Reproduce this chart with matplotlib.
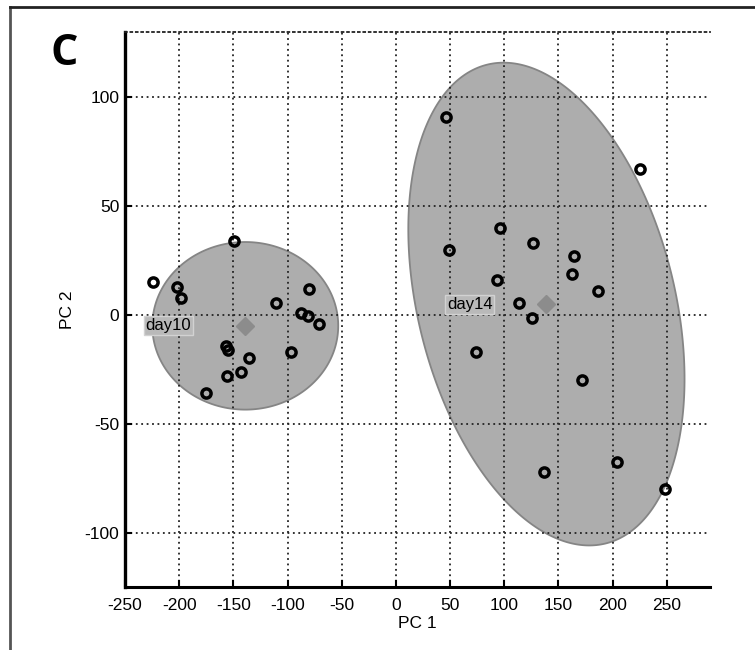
import numpy as np
import matplotlib
matplotlib.use("Agg")
import matplotlib.pyplot as plt
from matplotlib.lines import Line2D

plt.rcParams['font.family'] = ['Liberation Sans', 'DejaVu Sans']
plt.rcParams['axes.unicode_minus'] = False

# ---- data ----
day10_pc1 = [-149, -224, -202, -198, -111, -80, -88, -81, -71, -157, -155, -136, -143, -156, -175, -97]
day10_pc2 = [34, 15, 13, 8, 5.5, 12, 1, -0.5, -4, -14.5, -16, -20, -26, -28, -36, -17]
day14_pc1 = [46, 225, 96, 49, 127, 164, 163, 187, 93, 114, 126, 74, 172, 137, 204, 248]
day14_pc2 = [91, 67, 40, 30, 33, 27, 19, 11, 16, 5.5, -1.5, -17, -30, -72, -67.5, -80]

group_names = ["day10", "day14"]
centers_pc1 = [-139, 139]
centers_pc2 = [-5, 5]
# ellipse: half-extent along PC1, half-extent along PC2, correlation
ell_sx = [85.8, 127.5]
ell_sy = [38.5, 110.9]
ell_r = [0.0, -0.31]

xticks = [-250, -200, -150, -100, -50, 0, 50, 100, 150, 200, 250]
yticks = [-100, -50, 0, 50, 100]

# ---- figure ----
fig = plt.figure(figsize=(7.55, 6.5), dpi=100)
ax = fig.add_axes([0.1656, 0.0969, 0.7748, 0.8539])
ax.set_xlim(-250, 290)
ax.set_ylim(-125, 130)

# ellipses
t = np.linspace(0, 2 * np.pi, 400)
for cx, cy, sx, sy, r in zip(centers_pc1, centers_pc2, ell_sx, ell_sy, ell_r):
    ex = cx + sx * np.cos(t)
    ey = cy + sy * (r * np.cos(t) + np.sqrt(1 - r * r) * np.sin(t))
    ax.fill(ex, ey, facecolor='#adadad', edgecolor='#858585', linewidth=1.3, zorder=0.3)

# grid
ax.set_axisbelow(True)
ax.set_xticks(xticks)
ax.set_yticks(yticks)
ax.grid(True, color='#222222', linestyle=(0, (1, 2.0)), linewidth=1.3)

# points
for px, py in [(day10_pc1, day10_pc2), (day14_pc1, day14_pc2)]:
    ax.plot(px, py, linestyle='none', marker='o', markersize=6.6, mfc='none',
            mec='black', mew=2.5, zorder=3)

# centers
ax.plot(centers_pc1, centers_pc2, linestyle='none', marker='D', markersize=9,
        color='#8c8c8c', zorder=2.8)

# group labels
for name, cx, cy in zip(group_names, centers_pc1, centers_pc2):
    ax.text(cx - 92, cy, name, ha='left', va='center', fontsize=12, zorder=4,
            bbox=dict(boxstyle='square,pad=0.12', facecolor='#b9b9b9',
                      edgecolor='#d2d2d2', linewidth=1))

# spines
ax.spines['right'].set_visible(False)
ax.spines['top'].set_linestyle((0, (1, 2.0)))
ax.spines['top'].set_linewidth(1.3)
ax.spines['top'].set_color('#222222')
ax.spines['left'].set_linewidth(2.4)
ax.spines['bottom'].set_linewidth(2.2)

ax.tick_params(axis='both', direction='in', length=5, width=1.5, labelsize=12.5)
ax.tick_params(axis='x', pad=8)
ax.tick_params(axis='y', pad=4)
ax.set_xlabel('PC 1', fontsize=12.5, labelpad=2)
ax.set_ylabel('PC 2', fontsize=12.5, labelpad=7)

# panel letter
fig.text(0.067, 0.918, 'C', fontsize=31, fontweight='bold', family=['Open Sans', 'DejaVu Sans'],
         ha='left', va='center')

# outer frame (cropped rectangle)
fig.add_artist(Line2D([10 / 755, 10 / 755], [0, 1 - 7 / 650], transform=fig.transFigure,
                      color='#555555', linewidth=2))
fig.add_artist(Line2D([10 / 755, 1], [1 - 7 / 650, 1 - 7 / 650], transform=fig.transFigure,
                      color='#222222', linewidth=2))

fig.savefig('out.png', dpi=100)
